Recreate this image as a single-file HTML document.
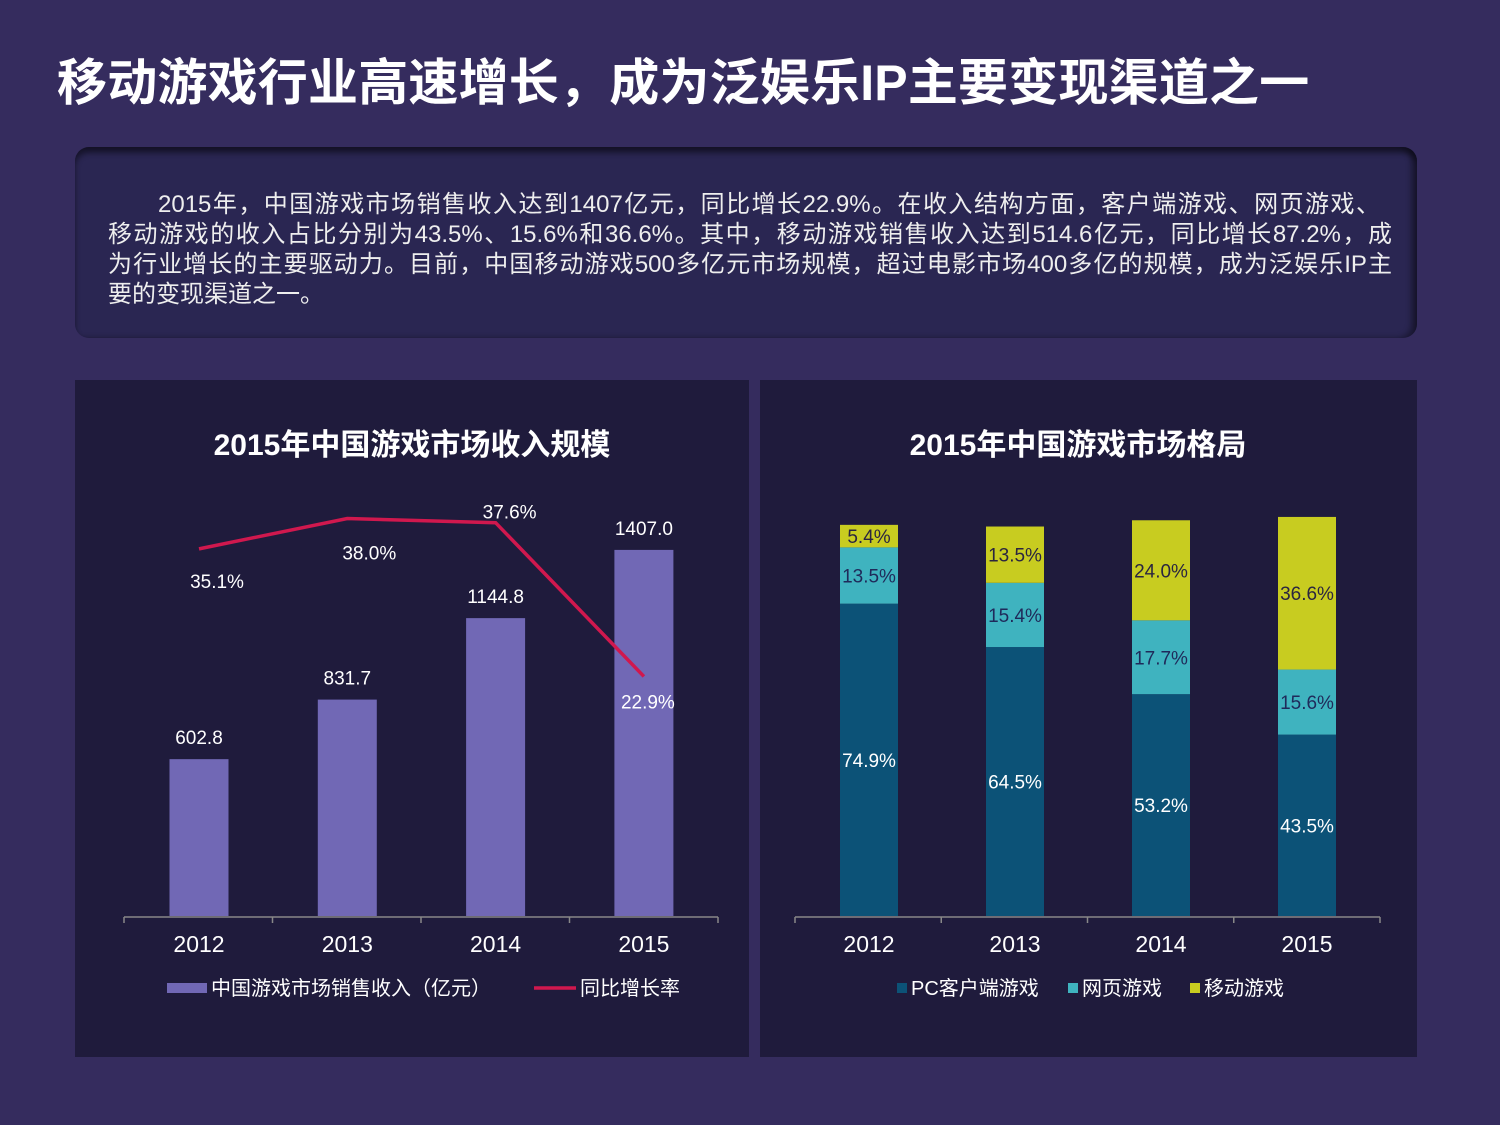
<!DOCTYPE html>
<html><head><meta charset="utf-8"><style>
body{margin:0;width:1500px;height:1125px;background:#352c5e;overflow:hidden;font-family:"Liberation Sans","Noto Sans CJK SC",sans-serif;position:relative}
.title{position:absolute;left:57px;top:53px;font-size:50px;font-weight:bold;color:#fff;white-space:nowrap;letter-spacing:0.2px;line-height:60px}
.box{position:absolute;left:75px;top:147px;width:1342px;height:191px;background:#2a2652;border-radius:14px;box-shadow:inset 0 6px 6px rgba(0,0,0,.45),inset -6px 0 6px rgba(0,0,0,.35)}
.box .t{position:absolute;left:33px;top:43px;width:1284px;color:#eee;font-size:24px;line-height:30px}
.box .t span{display:block;white-space:nowrap}
.box .t span.j{text-align:justify;text-align-last:justify;white-space:normal}
.panel{position:absolute;top:380px;height:677px;background:#1f1b3c}
svg text{font-family:"Liberation Sans","Noto Sans CJK SC",sans-serif}
</style></head><body>
<div class="title">移动游戏行业高速增长，成为泛娱乐IP主要变现渠道之一</div>
<div class="box"><div class="t"><span class="j" style="padding-left:50px;width:1222px">2015年，中国游戏市场销售收入达到1407亿元，同比增长22.9%。在收入结构方面，客户端游戏、网页游戏、</span><span class="j">移动游戏的收入占比分别为43.5%、15.6%和36.6%。其中，移动游戏销售收入达到514.6亿元，同比增长87.2%，成</span><span class="j">为行业增长的主要驱动力。目前，中国移动游戏500多亿元市场规模，超过电影市场400多亿的规模，成为泛娱乐IP主</span><span>要的变现渠道之一。</span></div></div>
<div class="panel" style="left:75px;width:674px"></div>
<div class="panel" style="left:760px;width:657px"></div>
<svg id="c" width="1500" height="1125" style="position:absolute;left:0;top:0"></svg>
<script>
const years=["2012","2013","2014","2015"];
const revenue=[602.8,831.7,1144.8,1407.0];
const growth=[35.1,38.0,37.6,22.9];
const pcShare=[74.9,64.5,53.2,43.5];
const webShare=[13.5,15.4,17.7,15.6];
const mobileShare=[5.4,13.5,24.0,36.6];
const NS="http://www.w3.org/2000/svg";
const svg=document.getElementById('c');
function mk(t,a,txt){const e=document.createElementNS(NS,t);for(const k in a)e.setAttribute(k,a[k]);if(txt!=null)e.textContent=txt;svg.appendChild(e);return e;}
const base=916;
const lx=i=>199+i*148.3;
const ly=v=>base-v*0.2602;
const gy=v=>base-v*10.46;
let t=mk('text',{x:412,y:455,'text-anchor':'middle','font-size':30,'font-weight':'bold',fill:'#fff'},'2015年中国游戏市场收入规模');

revenue.forEach((v,i)=>{
 const r=mk('rect',{x:lx(i)-29.5,y:ly(v),width:59,height:base-ly(v),fill:'#7168b5'});
 
 const l=mk('text',{x:lx(i),y:ly(v)-15,'text-anchor':'middle','font-size':19,fill:'#fff'},v.toFixed(1));
 
 const yl=mk('text',{x:lx(i),y:952,'text-anchor':'middle','font-size':23,fill:'#fff'},years[i]);
 
});
let ax=mk('line',{x1:124,y1:917,x2:718,y2:917,stroke:'#888','stroke-width':1.5});

for(let k=0;k<5;k++){const tk=mk('line',{x1:124+k*148.5,y1:917,x2:124+k*148.5,y2:923,stroke:'#888','stroke-width':1.5});}
const pl=mk('polyline',{points:growth.map((v,i)=>lx(i)+','+gy(v)).join(' '),fill:'none',stroke:'#d0184e','stroke-width':3.5});

const goff=[[18,39],[22,41],[14,-4],[4,32]];
growth.forEach((v,i)=>{const l=mk('text',{x:lx(i)+goff[i][0],y:gy(v)+goff[i][1],'text-anchor':'middle','font-size':19,fill:'#fff'},v.toFixed(1)+'%');
 });
let lg=mk('rect',{x:167,y:983,width:40,height:10,fill:'#7168b5'});
lg=mk('text',{x:211,y:995,'font-size':20,fill:'#fff'},'中国游戏市场销售收入（亿元）');
lg=mk('line',{x1:534,y1:988,x2:576,y2:988,stroke:'#d0184e','stroke-width':3.5});
lg=mk('text',{x:580,y:995,'font-size':20,fill:'#fff'},'同比增长率');
const rx=i=>869+i*146;
const ps=4.17;
t=mk('text',{x:1078,y:455,'text-anchor':'middle','font-size':30,'font-weight':'bold',fill:'#fff'},'2015年中国游戏市场格局');

const series=[[pcShare,'#0c5277','#fff','pc'],[webShare,'#3fb3bf','#1f2a5a','web'],[mobileShare,'#c8cc20','#2a2540','mobile']];
years.forEach((y,i)=>{
 let cur=base;
 series.forEach(s=>{
  const h=s[0][i]*ps;
  const r=mk('rect',{x:rx(i)-29,y:cur-h,width:58,height:h,fill:s[1]});
  
  const l=mk('text',{x:rx(i),y:cur-h/2+7,'text-anchor':'middle','font-size':19,fill:s[2]},s[0][i].toFixed(1)+'%');
  
  cur-=h;
 });
 const yl=mk('text',{x:rx(i),y:952,'text-anchor':'middle','font-size':23,fill:'#fff'},y);
 
});
ax=mk('line',{x1:795,y1:917,x2:1380,y2:917,stroke:'#888','stroke-width':1.5});

for(let k=0;k<5;k++){const tk=mk('line',{x1:795+k*146.25,y1:917,x2:795+k*146.25,y2:923,stroke:'#888','stroke-width':1.5});}
const legs=[[897,'#0c5277','PC客户端游戏','legend-pc'],[1068,'#3fb3bf','网页游戏','legend-web'],[1190,'#c8cc20','移动游戏','legend-mobile']];
legs.forEach(g=>{const s=mk('rect',{x:g[0],y:983,width:10,height:10,fill:g[1]});
 const l=mk('text',{x:g[0]+14,y:995,'font-size':20,fill:'#fff'},g[2]);});
</script>
</body></html>
